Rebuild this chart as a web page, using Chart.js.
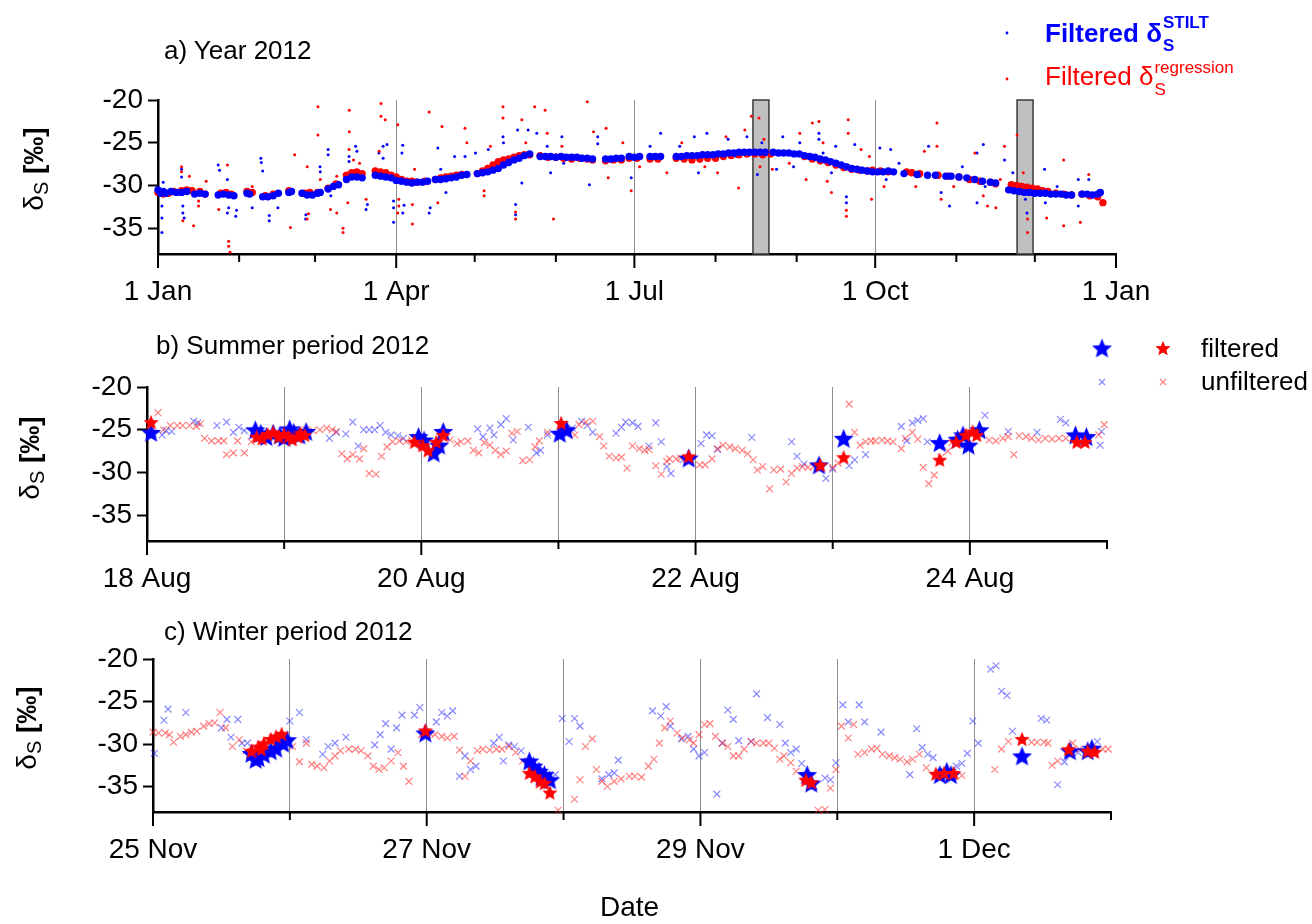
<!DOCTYPE html>
<html lang="en">

<head>
    <meta charset="UTF-8">
    <title>delta S 2012</title>
    <script src="https://cdn.jsdelivr.net/npm/chart.js"></script>
    <style>
        body {
            margin: 0;
            width: 1312px;
            height: 924px;
            position: relative;
            background: #fff;
            overflow: hidden;
            font-family: 'Liberation Sans', Arial, sans-serif;
            color: #000;
        }

        canvas {
            position: absolute;
            left: 0;
        }

        .txt {
            position: absolute;
            white-space: nowrap;
            line-height: 1;
            font-size: 26px;
            z-index: 2;
        }

        .ylab {
            position: absolute;
            white-space: nowrap;
            line-height: 1;
            font-size: 28px;
            transform: translate(-50%, -50%) rotate(-90deg);
            z-index: 2;
        }

        .ylab sub {
            font-size: 20px;
            vertical-align: -5px;
        }

        .ss {
            position: relative;
            display: inline-block;
            width: 60px;
            height: 1px;
        }

        .ss span {
            position: absolute;
            left: 1px;
            font-size: 17px;
            line-height: 1;
        }
    </style>
</head>

<body>

    <canvas id="chartA" width="1312" height="310" style="top:0"></canvas>
    <canvas id="chartB" width="1312" height="295" style="top:310px"></canvas>
    <canvas id="chartC" width="1312" height="319" style="top:605px"></canvas>

    <!-- titles -->
    <div class="txt" style="left:164px; top:37px">a) Year 2012</div>
    <div class="txt" style="left:156px; top:332px">b) Summer period 2012</div>
    <div class="txt" style="left:164px; top:618px">c) Winter period 2012</div>

    <!-- y axis titles -->
    <div class="ylab" style="left:35px; top:169px">δ<sub>S</sub> <b>[‰]</b></div>
    <div class="ylab" style="left:31px; top:458px">δ<sub>S</sub> <b>[‰]</b></div>
    <div class="ylab" style="left:28px; top:728px">δ<sub>S</sub> <b>[‰]</b></div>

    <div class="txt" style="left:600px; top:893px; font-size:28px">Date</div>

    <!-- legend a -->
    <div class="txt" style="left:1045px; top:20px; color:#0000ff; font-weight:bold">Filtered δ<span class="ss"><span style="top:-27px">STILT</span><span style="top:-4px">S</span></span></div>
    <div class="txt" style="left:1045px; top:63px; color:#ff0000">Filtered δ<span class="ss"><span style="top:-25px">regression</span><span style="top:-3px">S</span></span></div>

    <!-- legend b -->
    <div class="txt" style="left:1201px; top:335px">filtered</div>
    <div class="txt" style="left:1201px; top:368px">unfiltered</div>

    <script>
        // ---- panel a: whole year, x = days since 1 Jan 2012 ----
        const yearTickDays = [0, 31, 60, 91, 121, 152, 182, 213, 244, 274, 305, 335, 366];
        const yearTickLabels = ['1 Jan', '', '', '1 Apr', '', '', '1 Jul', '', '', '1 Oct', '', '', '1 Jan'];
        const yearGridDays = [91, 182, 274];
        const yearShadeRanges = [[227.3, 233.4], [328.2, 334.3]];

        const yearStiltBand = [[0,-30.5],[1,-30.9],[2,-30.7],[3,-30.9],[5,-30.7],[7,-30.8],[9,-30.8],[11,-30.7],[14,-31.0],[16,-30.9],[18,-31.0],
            [23,-31.1],[25,-31.0],[27,-31.1],[29,-31.2],[34,-30.9],[35,-31.0],[40,-31.3],[42,-31.3],[44,-31.2],[46,-30.9],[50,-30.8],[51,-30.7],
            [55,-30.9],[57,-31.1],[59,-31.1],[61,-30.9],[62,-30.8],[65,-30.4],[67,-30.1],[69,-29.9],[72,-29.3],[74,-29.0],[76,-29.0],[78,-29.1],
            [83,-28.8],[85,-28.9],[87,-29.0],[89,-29.1],[91,-29.4],[93,-29.5],[95,-29.6],[97,-29.7],[99,-29.6],[101,-29.6],[103,-29.5],
            [106,-29.3],[108,-29.3],[110,-29.2],[112,-29.1],[114,-29.0],[116,-28.8],[118,-28.7],[122,-28.6],[124,-28.5],[126,-28.4],[128,-28.2],
            [130,-28.0],[132,-27.6],[134,-27.3],[136,-27.0],[138,-26.8],[140,-26.5],[142,-26.3],[146,-26.6],[148,-26.6],[150,-26.6],[152,-26.7],
            [154,-26.6],[156,-26.7],[158,-26.7],[160,-26.7],[162,-26.8],[164,-26.8],[166,-26.9],[171,-26.9],[173,-26.9],[175,-26.8],[177,-26.8],
            [180,-26.6],[182,-26.7],[184,-26.6],[188,-26.6],[190,-26.6],[192,-26.6],[198,-26.6],[200,-26.6],[202,-26.5],[204,-26.5],[206,-26.5],
            [208,-26.4],[210,-26.4],[212,-26.4],[214,-26.3],[216,-26.3],[218,-26.2],[220,-26.2],[222,-26.1],[224,-26.1],[226,-26.1],[228,-26.1],
            [230,-26.1],[232,-26.1],[235,-26.1],[237,-26.2],[239,-26.2],[241,-26.2],[243,-26.3],[245,-26.3],[247,-26.5],[249,-26.6],[251,-26.7],
            [253,-26.9],[255,-27.0],[257,-27.2],[259,-27.4],[261,-27.6],[263,-27.8],[265,-28.0],[267,-28.1],[269,-28.2],[271,-28.3],[273,-28.4],
            [275,-28.4],[277,-28.4],[279,-28.3],[281,-28.4],[285,-28.6],[290,-28.7],[294,-28.8],[297,-28.8],[301,-28.9],[303,-28.9],[306,-29.0],
            [309,-29.1],[312,-29.3],[315,-29.5],[318,-29.6],[320,-29.7],[325,-30.5],[327,-30.6],[329,-30.7],[331,-30.8],[333,-30.8],[335,-30.9],
            [337,-30.9],[339,-30.9],[341,-31.0],[343,-31.0],[345,-31.0],[347,-31.1],[349,-31.1],[353,-31.0],[355,-31.0],[357,-31.1],[359,-31.0],[360,-30.8]];

        const yearRegBand = [[0,-30.8],[2,-31.0],[4,-30.9],[6,-30.7],[9,-30.6],[11,-30.5],[13,-30.6],[16,-30.7],[18,-31.0],[24,-30.9],[26,-30.8],
            [28,-31.0],[34,-30.7],[36,-30.8],[41,-31.2],[44,-31.0],[50,-30.6],[56,-30.9],[58,-30.8],[61,-30.8],[65,-30.3],[68,-29.8],[72,-28.8],
            [74,-28.5],[76,-28.4],[78,-28.6],[83,-28.3],[85,-28.4],[87,-28.5],[89,-28.8],[91,-29.0],[93,-29.3],[95,-29.5],[97,-29.5],[99,-29.6],
            [102,-29.5],[106,-29.3],[108,-29.1],[110,-29.0],[112,-28.9],[114,-28.8],[116,-28.7],[122,-28.6],[124,-28.3],[126,-28.0],[128,-27.6],
            [130,-27.2],[132,-27.0],[134,-26.9],[136,-26.7],[138,-26.5],[140,-26.4],[142,-26.4],[146,-26.5],[149,-26.7],[152,-26.7],[155,-26.8],
            [158,-26.9],[161,-26.8],[164,-26.9],[166,-27.0],[171,-27.1],[174,-27.0],[177,-27.0],[180,-26.8],[183,-26.8],[188,-26.9],[191,-26.9],
            [198,-26.8],[201,-26.9],[204,-27.0],[207,-26.9],[210,-26.8],[213,-26.8],[216,-26.6],[219,-26.5],[222,-26.4],[225,-26.3],[228,-26.3],
            [231,-26.4],[234,-26.3],[247,-26.6],[250,-26.9],[253,-27.1],[256,-27.3],[259,-27.6],[262,-27.9],[265,-28.1],[268,-28.2],[271,-28.3],
            [273,-28.2],[276,-28.3],[279,-28.4],[286,-28.4],[288,-28.5],[291,-28.6],[298,-28.8],[302,-28.9],[306,-29.0],[310,-29.3],[314,-29.5],
            [318,-29.6],[320,-29.8],[326,-29.9],[328,-30.0],[330,-30.1],[332,-30.2],[334,-30.3],[336,-30.4],[338,-30.6],[340,-30.7],[343,-30.9],
            [346,-31.0],[349,-31.1],[353,-31.0],[356,-31.2],[359,-31.3],[361,-32.0]];

        const yearStiltScatter = [[1.5,-35.5],[1.5,-33.8],[1.5,-32.4],[2,-29.6],[9,-28.1],[9,-29],[9.5,-32.4],[9.5,-33.2],[10,-33.8],[23,-27.6],
            [23.5,-28.2],[26.5,-29.3],[26.5,-33.2],[27,-32.6],[29.7,-33.6],[30,-32.9],[36,-32.6],[39.3,-26.8],[39.5,-27.3],[40,-28.3],[42.5,-34.1],
            [42.5,-33.5],[45.8,-32.6],[56.4,-33.9],[56.5,-33.4],[59.4,-31.2],[61.9,-27.8],[62,-28.4],[65,-25.8],[65,-26.4],[66,-31.2],[73,-26.6],
            [73,-27.2],[75.5,-25.4],[76,-26],[79.5,-32.8],[80,-32.2],[84.4,-26.2],[86,-25.4],[86,-26.8],[87.5,-25.2],[90,-31.8],[90,-32.6],[90,-34.3],
            [93.2,-26.2],[93.5,-25.3],[93.5,-33.2],[94,-32.3],[103.6,-33.2],[104,-32.6],[106.9,-25.6],[108,-28.1],[110,-30.8],[113.3,-26.6],
            [117.3,-26.6],[121.3,-26.2],[126.2,-25.8],[131.8,-24.3],[132,-25],[136.6,-32.2],[136.6,-33.4],[137.4,-23.5],[139,-29.7],[141.4,-23.5],
            [144.7,-23.9],[148.7,-25.4],[150,-28.5],[154.3,-24.3],[155,-27.4],[164.8,-29.9],[168,-24.3],[168,-25.1],[180.8,-29.1],[188,-25.4],
            [192,-23.9],[199.3,-25.4],[204.9,-24.3],[206.5,-28.5],[209.7,-23.9],[217.8,-24.6],[221,-26.6],[225,-24.3],[229,-28.7],[230.7,-25],
            [236.3,-28.1],[238.7,-24.3],[242.8,-27.8],[245.2,-25],[252.5,-23.9],[252.5,-24.6],[254.1,-26.2],[257.3,-28.5],[258.9,-25.4],[263,-32],
            [263,-31.3],[266.2,-25.2],[275.8,-25.6],[278.2,-29.3],[279.9,-25.8],[283.1,-27.4],[291.1,-28.9],[294.4,-25.4],[299.2,-30.8],[302.4,-32.4],
            [307.3,-27.8],[312.9,-26.2],[312.9,-32],[315.3,-25.2],[316,-30.1],[323.4,-27],[326.6,-28.5],[331.4,-31.6],[332,-33.2],[338.7,-28.1],
            [339,-32],[343.5,-30.1],[351.6,-29.3],[351.6,-32.4],[355.6,-29.3]];

        const yearRegScatter = [[9,-27.8],[9,-28.4],[9.5,-34.1],[12,-28.9],[13.6,-34.7],[15.5,-32.4],[15.5,-31.8],[18.4,-29.5],[23.2,-32.8],
            [26.5,-27.6],[27,-36.5],[27,-37.1],[27.5,-37.8],[28,-31.2],[36,-30.1],[50.6,-34.9],[52.2,-26.4],[57,-27.8],[57,-33.9],[57.5,-33.3],
            [61.1,-20.8],[61.1,-24.1],[62,-29.3],[65.9,-32.8],[68.3,-28.9],[68.3,-33.2],[70.7,-35.5],[70.7,-35],[73.1,-21.2],[73.1,-23.7],[73,-25.8],
            [72.5,-32],[74.7,-27],[77,-27.4],[79.5,-31.6],[85.2,-20.4],[85.2,-21.9],[86.8,-22.3],[84.5,-26],[91.6,-22.9],[91.6,-33.2],[92,-31.6],
            [92,-32.4],[97.2,-32.2],[97.2,-34.5],[98,-28.1],[103.6,-21.4],[106.9,-32],[108.5,-23.1],[117.3,-23.3],[118,-25],[124.6,-31.2],
            [124.6,-30.6],[127,-25.4],[131.8,-20.8],[131.8,-22.1],[136.6,-33.9],[136.6,-33.1],[139,-22.3],[140.5,-25],[143.9,-20.8],[147.9,-21.2],
            [148.7,-23.9],[151.1,-33.9],[154.3,-25.4],[164,-20.2],[166.4,-23.7],[171.2,-23.3],[172,-29.1],[177.6,-25],[180.8,-30.6],[184,-27.8],
            [192.8,-26.6],[194.4,-28.5],[200.1,-25],[208.9,-27.8],[213.8,-28.5],[217,-24.3],[221.8,-30.3],[224.2,-23.5],[226.7,-21.9],[229.6,-22.1],
            [231.5,-24.6],[230,-27.8],[234.7,-28.1],[241.2,-27.4],[245.2,-23.9],[247.6,-29.3],[250,-22.7],[252.5,-22.5],[254.1,-25],[255.7,-29.5],
            [257.3,-30.8],[263,-33.6],[263,-32.9],[263.7,-22.3],[263.7,-23.9],[268.6,-25.8],[271.8,-26.6],[272.6,-31.6],[277.4,-30.1],[289.5,-30.1],
            [292.8,-26],[297.6,-22.7],[297.6,-25.4],[299.2,-31.6],[304,-30.1],[312.1,-26.2],[315.3,-31.2],[316.9,-32.4],[320.1,-32.6],[321.8,-29.3],
            [323.4,-25.4],[328.2,-24.1],[330.6,-28.5],[332.2,-33.9],[332.2,-35.5],[339.5,-33.8],[346,-27],[346,-34.7],[352.4,-34.3],[355.6,-28.7]];

        // ---- panel b: x = days since 18 Aug ----
        const summerTickDays = [0, 1, 2, 3, 4, 5, 6, 7];
        const summerTickLabels = ['18 Aug', '', '20 Aug', '', '22 Aug', '', '24 Aug', ''];
        const summerGridDays = [1, 2, 3, 4, 5, 6];

        const summerStiltFiltered = [[0.03,-25.3],[0.79,-25.0],[0.83,-25.4],[0.87,-25.8],[0.92,-25.4],[0.97,-25.6],[1.0,-25.9],[1.04,-24.9],
            [1.07,-25.3],[1.11,-25.6],[1.16,-25.2],[1.98,-25.8],[2.02,-26.2],[2.09,-27.7],[2.13,-26.8],[2.16,-25.2],[3.01,-25.4],[3.06,-25.0],
            [3.95,-28.3],[4.90,-29.1],[5.08,-26.0],[5.78,-26.5],[5.91,-26.1],[5.95,-25.6],[5.99,-26.8],[6.07,-25.0],[6.77,-25.6],[6.85,-25.8]];
        const summerRegFiltered = [[0.03,-24.1],[0.80,-25.8],[0.84,-26.0],[0.88,-25.5],[0.92,-25.3],[0.96,-25.8],[1.0,-25.5],[1.03,-25.8],
            [1.06,-26.1],[1.10,-25.8],[1.12,-25.4],[1.15,-25.6],[1.95,-26.4],[2.01,-26.8],[2.05,-27.4],[2.11,-26.4],[2.16,-25.6],[3.02,-24.2],
            [3.95,-28.1],[4.91,-29.1],[5.08,-28.2],[5.78,-28.5],[5.90,-26.4],[5.97,-25.6],[6.02,-25.2],[6.05,-25.6],[6.78,-26.4],[6.84,-26.4]];
        const summerStiltUnfiltered = [[0.11,-25.6],[0.14,-25.1],[0.18,-25.2],[0.34,-24.0],[0.37,-24.2],[0.51,-24.5],[0.58,-24.1],[0.63,-25.3],
            [0.67,-24.7],[0.71,-25.1],[1.33,-26.0],[1.38,-25.3],[1.45,-25.5],[1.50,-24.1],[1.54,-26.9],[1.58,-25.0],[1.62,-25.0],[1.66,-25.0],
            [1.70,-24.5],[1.74,-25.3],[1.78,-25.6],[1.83,-25.7],[1.87,-26.0],[2.41,-24.9],[2.45,-25.8],[2.50,-24.8],[2.53,-25.6],[2.58,-24.4],
            [2.62,-23.7],[2.67,-26.2],[2.78,-24.7],[2.84,-27.7],[2.87,-27.4],[2.92,-25.6],[3.10,-24.8],[3.17,-24.0],[3.21,-24.5],[3.25,-25.3],
            [3.42,-25.4],[3.46,-24.7],[3.49,-24.1],[3.54,-24.2],[3.58,-24.6],[3.66,-26.9],[3.71,-24.2],[3.75,-26.4],[3.79,-29.3],[3.82,-30.1],
            [3.91,-28.5],[4.04,-26.6],[4.08,-25.6],[4.12,-25.7],[4.16,-27.3],[4.41,-25.9],[4.70,-26.4],[4.74,-28.1],[4.79,-29.0],[4.95,-30.7],
            [5.00,-29.6],[5.12,-29.2],[5.16,-28.5],[5.24,-27.9],[5.50,-24.6],[5.54,-26.3],[5.58,-24.2],[5.62,-23.9],[5.66,-23.7],[5.69,-26.4],
            [6.11,-23.3],[6.28,-25.2],[6.49,-25.3],[6.66,-23.8],[6.70,-24.2],[6.95,-26.8],[6.96,-25.2]];
        const summerRegUnfiltered = [[0.08,-23.0],[0.12,-25.0],[0.17,-24.5],[0.22,-24.5],[0.26,-24.5],[0.31,-24.5],[0.36,-24.6],[0.39,-24.3],
            [0.42,-26.0],[0.47,-26.3],[0.52,-26.3],[0.56,-26.3],[0.58,-27.9],[0.63,-27.7],[0.66,-26.3],[0.71,-27.7],[0.76,-26.4],[1.16,-25.0],
            [1.21,-25.1],[1.26,-25.0],[1.31,-24.8],[1.35,-25.0],[1.38,-25.2],[1.42,-27.8],[1.46,-28.4],[1.50,-27.9],[1.55,-28.4],[1.58,-27.2],
            [1.62,-30.1],[1.67,-30.2],[1.71,-28.1],[1.75,-27.0],[1.79,-26.4],[1.84,-26.3],[1.89,-26.4],[1.93,-26.2],[2.21,-26.2],[2.26,-26.6],
            [2.29,-26.4],[2.34,-26.3],[2.38,-27.4],[2.42,-27.7],[2.46,-26.5],[2.50,-26.8],[2.54,-27.4],[2.58,-27.9],[2.62,-27.5],[2.66,-25.4],
            [2.70,-25.2],[2.74,-28.6],[2.79,-28.5],[2.83,-27.0],[2.86,-26.3],[2.92,-25.3],[3.12,-25.6],[3.15,-24.4],[3.20,-24.1],[3.25,-24.0],
            [3.30,-25.8],[3.33,-26.9],[3.37,-28.1],[3.42,-28.3],[3.46,-28.2],[3.50,-29.5],[3.54,-26.9],[3.59,-27.2],[3.63,-27.4],[3.66,-27.3],
            [3.71,-29.2],[3.75,-30.2],[3.79,-28.7],[3.81,-28.4],[3.86,-28.4],[3.89,-28.3],[4.03,-29.1],[4.07,-29.1],[4.12,-28.4],[4.16,-27.2],
            [4.20,-26.8],[4.25,-27.0],[4.29,-27.2],[4.34,-27.4],[4.38,-27.8],[4.42,-28.5],[4.45,-29.7],[4.49,-29.3],[4.54,-31.9],[4.57,-29.7],
            [4.62,-29.6],[4.66,-31.1],[4.70,-30.1],[4.74,-29.5],[4.78,-29.3],[4.82,-29.4],[4.86,-29.3],[5.00,-29.4],[5.04,-28.9],[5.12,-22.0],
            [5.16,-25.3],[5.20,-26.8],[5.24,-26.4],[5.28,-26.3],[5.31,-26.3],[5.36,-26.2],[5.40,-26.3],[5.44,-26.4],[5.50,-27.2],[5.53,-26.0],
            [5.58,-25.3],[5.62,-26.1],[5.66,-29.4],[5.70,-31.3],[5.74,-30.3],[5.79,-28.2],[5.84,-27.5],[5.87,-26.5],[6.14,-26.2],[6.19,-26.3],
            [6.24,-26.0],[6.28,-25.8],[6.32,-27.9],[6.36,-25.7],[6.41,-25.8],[6.45,-26.0],[6.50,-26.2],[6.55,-26.0],[6.60,-26.1],[6.65,-26.0],
            [6.70,-26.0],[6.94,-25.6],[6.98,-24.4]];

        // ---- panel c: x = days since 25 Nov ----
        const winterTickDays = [0, 1, 2, 3, 4, 5, 6, 7];
        const winterTickLabels = ['25 Nov', '', '27 Nov', '', '29 Nov', '', '1 Dec', ''];
        const winterGridDays = [1, 2, 3, 4, 5, 6];

        const winterStiltFiltered = [[0.72,-31.1],[0.75,-31.8],[0.77,-31.6],[0.81,-31.2],[0.86,-30.8],[0.90,-30.5],[0.95,-29.9],[0.98,-29.5],
            [1.99,-28.7],[2.75,-32.0],[2.78,-32.6],[2.82,-33.2],[2.84,-33.8],[2.86,-33.6],[2.90,-34.2],[4.78,-33.6],[4.81,-34.6],[5.75,-33.6],
            [5.80,-33.2],[5.83,-33.6],[6.35,-31.4],[6.70,-30.8],[6.83,-30.8],[6.86,-30.5]];
        const winterRegFiltered = [[0.72,-30.8],[0.77,-30.3],[0.79,-30.6],[0.81,-29.9],[0.86,-29.4],[0.90,-29.1],[0.94,-28.8],[1.99,-28.4],
            [2.75,-33.4],[2.79,-33.8],[2.83,-34.4],[2.86,-34.6],[2.90,-35.7],[4.77,-34.2],[4.81,-34.5],[5.72,-33.5],[5.78,-33.4],[5.85,-33.4],
            [6.35,-29.4],[6.69,-30.6],[6.83,-30.8],[6.88,-30.9]];
        const winterStiltUnfiltered = [[0.01,-31.1],[0.08,-27.2],[0.11,-25.9],[0.24,-26.3],[0.50,-28.1],[0.54,-27.1],[0.62,-27.1],[0.57,-29.2],
            [0.65,-29.9],[0.69,-29.9],[1.00,-27.3],[1.07,-26.3],[1.12,-29.5],[1.24,-31.2],[1.28,-30.3],[1.33,-29.9],[1.41,-29.2],[1.62,-30.1],
            [1.66,-28.9],[1.70,-27.6],[1.74,-30.6],[1.78,-28.1],[1.82,-26.6],[1.91,-26.6],[1.95,-25.7],[2.07,-27.4],[2.11,-26.3],[2.15,-26.7],
            [2.19,-26.1],[2.24,-33.8],[2.28,-31.4],[2.32,-33.0],[2.36,-32.6],[2.49,-29.9],[2.53,-29.2],[2.56,-32.0],[2.60,-30.1],[2.64,-30.3],
            [2.69,-30.8],[2.94,-33.6],[2.99,-27.0],[3.04,-29.7],[3.08,-27.0],[3.12,-27.9],[3.28,-34.1],[3.33,-33.6],[3.37,-33.4],[3.40,-31.9],
            [3.65,-26.1],[3.71,-26.7],[3.75,-25.6],[3.78,-27.9],[3.86,-29.4],[3.91,-29.1],[3.95,-30.6],[3.99,-31.4],[4.03,-31.0],[4.12,-35.9],
            [4.16,-29.9],[4.20,-26.0],[4.24,-27.1],[4.28,-29.6],[4.37,-29.7],[4.41,-24.1],[4.49,-26.9],[4.58,-27.7],[4.62,-29.9],[4.66,-31.0],
            [4.70,-30.6],[4.74,-32.3],[4.83,-35.0],[4.91,-34.0],[4.95,-34.2],[4.99,-32.2],[5.04,-25.4],[5.08,-27.4],[5.16,-25.4],[5.20,-27.4],
            [5.32,-28.6],[5.53,-33.6],[5.58,-28.2],[5.62,-30.4],[5.66,-31.2],[5.70,-31.6],[5.87,-32.6],[5.91,-32.3],[5.95,-31.1],[5.99,-27.3],
            [6.03,-29.9],[6.12,-21.2],[6.16,-20.8],[6.20,-23.8],[6.24,-24.3],[6.28,-28.5],[6.49,-27.0],[6.53,-27.2],[6.61,-34.8],[6.66,-32.1],
            [6.76,-31.0],[6.90,-29.7]];
        const winterRegUnfiltered = [[0.0,-28.6],[0.04,-28.7],[0.09,-28.7],[0.12,-28.9],[0.15,-29.8],[0.20,-29.1],[0.24,-28.9],[0.28,-28.6],
            [0.32,-28.5],[0.37,-27.9],[0.41,-27.6],[0.45,-27.5],[0.49,-26.3],[0.53,-28.1],[0.58,-30.3],[0.63,-29.5],[0.68,-30.8],[1.02,-30.3],
            [1.07,-32.1],[1.12,-29.9],[1.16,-32.4],[1.20,-32.6],[1.25,-32.8],[1.29,-32.0],[1.33,-31.4],[1.37,-30.8],[1.43,-30.6],[1.48,-30.6],
            [1.52,-30.8],[1.57,-31.4],[1.61,-32.6],[1.65,-33.0],[1.69,-32.8],[1.74,-32.0],[1.79,-31.0],[1.83,-32.6],[1.87,-34.4],[1.96,-28.9],
            [2.02,-28.7],[2.06,-28.9],[2.11,-29.1],[2.15,-29.3],[2.20,-29.1],[2.24,-30.7],[2.28,-33.8],[2.32,-32.0],[2.37,-30.8],[2.41,-30.6],
            [2.46,-30.7],[2.51,-30.6],[2.55,-30.6],[2.60,-30.3],[2.65,-31.0],[2.70,-32.0],[2.96,-37.8],[3.08,-36.5],[3.12,-34.2],[3.16,-30.3],
            [3.21,-29.4],[3.24,-33.0],[3.28,-34.4],[3.32,-35.0],[3.37,-34.4],[3.42,-34.1],[3.48,-33.8],[3.52,-33.8],[3.57,-33.9],[3.62,-32.6],
            [3.66,-31.8],[3.70,-29.9],[3.74,-28.1],[3.78,-27.3],[3.83,-28.7],[3.87,-29.3],[3.92,-29.5],[3.95,-29.9],[3.99,-28.9],[4.03,-27.7],
            [4.07,-27.6],[4.11,-29.1],[4.16,-29.9],[4.20,-30.3],[4.24,-31.4],[4.28,-31.4],[4.32,-30.6],[4.37,-29.7],[4.41,-29.9],[4.46,-29.9],
            [4.50,-29.9],[4.54,-30.5],[4.58,-31.8],[4.61,-31.4],[4.66,-32.2],[4.70,-33.2],[4.86,-37.8],[4.91,-37.7],[4.95,-35.2],[4.99,-33.0],
            [5.03,-27.9],[5.08,-29.3],[5.12,-27.7],[5.15,-31.2],[5.20,-31.0],[5.25,-30.6],[5.29,-30.5],[5.33,-31.2],[5.38,-31.4],[5.42,-31.6],
            [5.46,-31.8],[5.51,-32.1],[5.55,-31.8],[5.60,-31.2],[5.65,-32.8],[5.91,-33.7],[6.15,-33.0],[6.20,-30.6],[6.25,-29.7],[6.42,-29.8],
            [6.46,-29.8],[6.51,-29.8],[6.54,-29.9],[6.57,-32.5],[6.61,-32.0],[6.72,-29.9],[6.77,-30.6],[6.89,-30.8],[6.94,-30.6],[6.98,-30.6]];

        const yTickValues = [-35, -30, -25, -20];

        const BLUE = '#0000ff';
        const RED = '#ff0000';
        const BLUE_X = 'rgba(40, 40, 255, 0.55)';
        const RED_X = 'rgba(255, 30, 30, 0.55)';

        Chart.defaults.font.family = "'Liberation Sans', Arial, sans-serif";
        Chart.defaults.color = '#000';

        const toXY = arr => arr.map(p => ({ x: p[0], y: p[1] }));

        function makeStar(r, color) {
            const c = document.createElement('canvas');
            const s = Math.ceil(2 * r + 2);
            c.width = s;
            c.height = s;
            const g = c.getContext('2d');
            g.fillStyle = color;
            g.beginPath();
            for (let i = 0; i < 10; i++) {
                const a = -Math.PI / 2 + i * Math.PI / 5;
                const rr = i % 2 === 0 ? r : r * 0.45;
                g.lineTo(s / 2 + rr * Math.cos(a), s / 2 + rr * Math.sin(a) + r * 0.1);
            }
            g.closePath();
            g.fill();
            return c;
        }

        const starBlue = makeStar(10.5, BLUE);
        const starRed = makeStar(8, RED);

        function drawCross(ctx, x, y, r, color) {
            const d = r * Math.SQRT1_2;
            ctx.strokeStyle = color;
            ctx.lineWidth = 1.2;
            ctx.beginPath();
            ctx.moveTo(x - d, y - d); ctx.lineTo(x + d, y + d);
            ctx.moveTo(x - d, y + d); ctx.lineTo(x + d, y - d);
            ctx.stroke();
        }

        // grey boxes marking the two zoomed periods
        const shadePlugin = {
            id: 'shade',
            beforeDatasetsDraw(chart, args, opts) {
                const ranges = opts.ranges || [];
                const { ctx, chartArea, scales: { x } } = chart;
                ctx.save();
                ranges.forEach(r => {
                    const x0 = x.getPixelForValue(r[0]);
                    const x1 = x.getPixelForValue(r[1]);
                    ctx.fillStyle = '#c0c0c0';
                    ctx.fillRect(x0, chartArea.top, x1 - x0, chartArea.bottom - chartArea.top);
                    ctx.strokeStyle = '#3a3a3a';
                    ctx.lineWidth = 1.5;
                    ctx.strokeRect(x0, chartArea.top, x1 - x0, chartArea.bottom - chartArea.top);
                });
                ctx.restore();
            }
        };

        // long ticks under labelled dates, short ones between
        const xTickPlugin = {
            id: 'xTicks',
            afterDraw(chart) {
                const { ctx, chartArea, scales: { x } } = chart;
                ctx.save();
                ctx.strokeStyle = '#000';
                ctx.lineWidth = 2;
                x.ticks.forEach(t => {
                    const px = x.getPixelForValue(t.value);
                    const len = t.label ? 14 : 8;
                    ctx.beginPath();
                    ctx.moveTo(px, chartArea.bottom);
                    ctx.lineTo(px, chartArea.bottom + len);
                    ctx.stroke();
                });
                ctx.restore();
            }
        };

        const marksPlugin = {
            id: 'marks',
            afterDraw(chart, args, opts) {
                if (opts.draw) {
                    chart.ctx.save();
                    opts.draw(chart.ctx);
                    chart.ctx.restore();
                }
            }
        };

        function makeChart(id, cfg) {
            return new Chart(document.getElementById(id), {
                type: 'scatter',
                data: { datasets: cfg.datasets },
                options: {
                    responsive: false,
                    animation: false,
                    events: [],
                    layout: { padding: cfg.padding },
                    plugins: {
                        legend: { display: false },
                        tooltip: { enabled: false },
                        shade: { ranges: cfg.shade || [] },
                        marks: { draw: cfg.marks }
                    },
                    scales: {
                        x: {
                            type: 'linear',
                            min: cfg.xMin,
                            max: cfg.xMax,
                            afterFit: s => { s.height = cfg.xHeight; },
                            afterBuildTicks: s => { s.ticks = cfg.tickValues.map(v => ({ value: v })); },
                            ticks: {
                                autoSkip: false,
                                maxRotation: 0,
                                padding: 21,
                                font: { size: 28 },
                                color: '#000',
                                callback: (v, i) => cfg.tickLabels[i]
                            },
                            grid: {
                                drawTicks: false,
                                lineWidth: 1,
                                color: c => (c.tick && cfg.gridValues.includes(c.tick.value)) ? '#8c8c8c' : 'rgba(0,0,0,0)'
                            },
                            border: { display: true, color: '#000', width: 2.5 }
                        },
                        y: {
                            min: -38,
                            max: -20,
                            afterFit: s => { s.width = cfg.yWidth; },
                            afterBuildTicks: s => { s.ticks = yTickValues.map(v => ({ value: v })); },
                            ticks: { padding: 5, font: { size: 28 }, color: '#000' },
                            grid: { drawOnChartArea: false, tickLength: 10, tickWidth: 2, tickColor: '#000' },
                            border: { display: true, color: '#000', width: 2.5 }
                        }
                    }
                },
                plugins: [shadePlugin, xTickPlugin, marksPlugin]
            });
        }

        function periodSets(stiltF, regF, stiltU, regU) {
            return [
                { data: toXY(regF), pointStyle: starRed, pointRadius: 8, order: 0, clip: false },
                { data: toXY(stiltF), pointStyle: starBlue, pointRadius: 10, order: 1, clip: false },
                { data: toXY(regU), pointStyle: 'crossRot', pointRadius: 4.8, borderWidth: 1.2, borderColor: RED_X, backgroundColor: 'rgba(0,0,0,0)', order: 2, clip: false },
                { data: toXY(stiltU), pointStyle: 'crossRot', pointRadius: 4.8, borderWidth: 1.2, borderColor: BLUE_X, backgroundColor: 'rgba(0,0,0,0)', order: 3, clip: false }
            ];
        }

        // a) year
        makeChart('chartA', {
            padding: { top: 100, left: 0, right: 196, bottom: 0 },
            yWidth: 158,
            xHeight: 56,
            xMin: 0,
            xMax: 366,
            tickValues: yearTickDays,
            tickLabels: yearTickLabels,
            gridValues: yearGridDays,
            shade: yearShadeRanges,
            datasets: [
                { data: toXY(yearStiltBand), pointRadius: 3.7, backgroundColor: BLUE, borderWidth: 0, order: 0, clip: false },
                { data: toXY(yearRegBand), pointRadius: 3.7, backgroundColor: RED, borderWidth: 0, order: 1, clip: false },
                { data: toXY(yearRegScatter), pointRadius: 1.5, backgroundColor: RED, borderWidth: 0, order: 2, clip: false },
                { data: toXY(yearStiltScatter), pointRadius: 1.5, backgroundColor: BLUE, borderWidth: 0, order: 3, clip: false }
            ],
            marks: ctx => {
                ctx.fillStyle = BLUE;
                ctx.beginPath(); ctx.arc(1007, 33, 1.4, 0, Math.PI * 2); ctx.fill();
                ctx.fillStyle = RED;
                ctx.beginPath(); ctx.arc(1007, 79, 1.4, 0, Math.PI * 2); ctx.fill();
            }
        });

        // b) summer
        makeChart('chartB', {
            padding: { top: 77, left: 0, right: 205, bottom: 0 },
            yWidth: 147,
            xHeight: 64,
            xMin: 0,
            xMax: 7,
            tickValues: summerTickDays,
            tickLabels: summerTickLabels,
            gridValues: summerGridDays,
            datasets: periodSets(summerStiltFiltered, summerRegFiltered, summerStiltUnfiltered, summerRegUnfiltered),
            marks: ctx => {
                ctx.drawImage(starBlue, 1102 - starBlue.width / 2, 38 - starBlue.height / 2);
                ctx.drawImage(starRed, 1163 - starRed.width / 2, 38 - starRed.height / 2);
                drawCross(ctx, 1102, 72, 4.3, BLUE_X);
                drawCross(ctx, 1163, 72, 4.3, RED_X);
            }
        });

        // c) winter
        makeChart('chartC', {
            padding: { top: 54, left: 0, right: 201, bottom: 0 },
            yWidth: 153,
            xHeight: 112,
            xMin: 0,
            xMax: 7,
            tickValues: winterTickDays,
            tickLabels: winterTickLabels,
            gridValues: winterGridDays,
            datasets: periodSets(winterStiltFiltered, winterRegFiltered, winterStiltUnfiltered, winterRegUnfiltered)
        });
    </script>

</body>

</html>
